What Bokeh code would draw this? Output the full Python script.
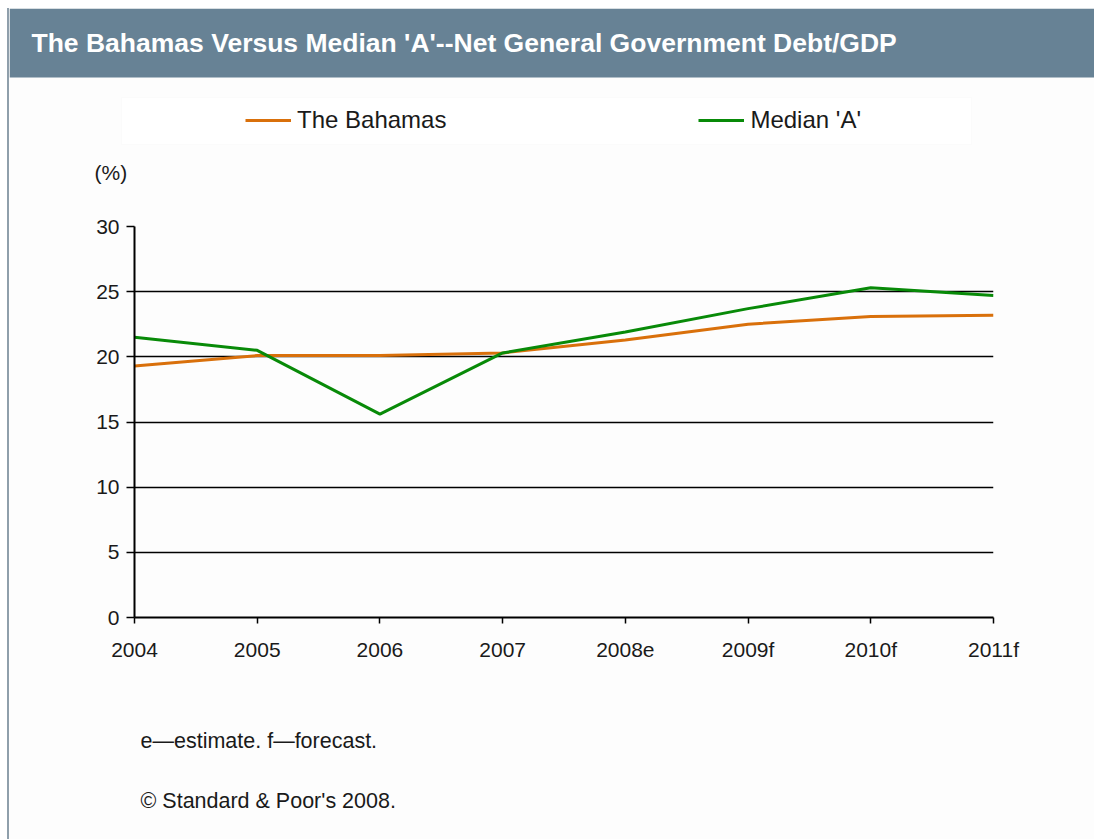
from bokeh.plotting import figure
from bokeh.layouts import column
from bokeh.models import (Label, BoxAnnotation, Legend, LegendItem, FixedTicker,
                          Range1d)
from bokeh.embed import file_html
from bokeh.resources import INLINE

title = "The Bahamas Versus Median 'A'--Net General Government Debt/GDP"
years = ["2004", "2005", "2006", "2007", "2008e", "2009f", "2010f", "2011f"]
bahamas = [19.3, 20.1, 20.1, 20.3, 21.3, 22.5, 23.1, 23.2]
median_a = [21.5, 20.5, 15.6, 20.3, 21.9, 23.7, 25.3, 24.7]
y_ticks = [0, 5, 10, 15, 20, 25, 30]
footnote1 = "e\u2014estimate. f\u2014forecast."
footnote2 = "\u00a9 Standard & Poor's 2008."

FONT = "Liberation Sans"
TXT = "#1a1a1a"
BG = "#fdfdfd"
ORANGE = "#d9700b"
GREEN = "#088a08"
W = 1085
x = list(range(len(years)))
NAN = float("nan")


def blank(h):
    f = figure(width=W, height=h, output_backend="svg", toolbar_location=None,
               x_range=Range1d(0, W), y_range=Range1d(h, 0),
               x_axis_type=None, y_axis_type=None, min_border=0,
               frame_align=False)
    f.grid.visible = False
    f.outline_line_color = None
    f.background_fill_color = BG
    f.border_fill_color = BG
    return f


# ---- top part: header, legend, unit label
top = blank(192)
top.add_layout(BoxAnnotation(left=0, right=W, top=0, bottom=69,
                             fill_color="#678295", fill_alpha=1, line_color=None))
top.add_layout(Label(x=22, y=34, text=title, text_font=FONT,
                     text_font_style="bold", text_font_size="26.5px",
                     text_color="white", text_baseline="middle"))
top.add_layout(BoxAnnotation(left=112, right=962, top=89, bottom=136,
                             fill_color="white", fill_alpha=1,
                             line_color="#f4f4f4", line_width=1))
l1 = top.line(x=[NAN], y=[NAN], line_color=ORANGE, line_width=3)
l2 = top.line(x=[NAN], y=[NAN], line_color=GREEN, line_width=3)
legend = Legend(items=[LegendItem(label="The Bahamas", renderers=[l1]),
                       LegendItem(label="Median 'A'", renderers=[l2])],
                orientation="horizontal", location=(236, 66), margin=0,
                padding=0, spacing=252, glyph_width=46, glyph_height=20,
                label_standoff=6, border_line_color=None,
                background_fill_alpha=0, label_text_font=FONT,
                label_text_font_size="24px", label_text_color=TXT,
                label_height=24)
top.add_layout(legend)
top.add_layout(Label(x=85, y=164, text="(%)", text_font=FONT,
                     text_font_size="21px", text_color=TXT,
                     text_baseline="middle"))

# ---- main chart
p = figure(width=W, height=490, output_backend="svg", toolbar_location=None,
           x_range=Range1d(0, len(years) - 1), y_range=Range1d(0, 30),
           min_border_left=125, min_border_right=101, min_border_top=26,
           min_border_bottom=73, frame_align=False)
p.background_fill_color = BG
p.border_fill_color = BG
p.outline_line_color = None
p.yaxis.ticker = FixedTicker(ticks=y_ticks)
p.xaxis.ticker = FixedTicker(ticks=x)
p.xaxis.major_label_overrides = {i: y for i, y in enumerate(years)}
for ax in (p.xaxis[0], p.yaxis[0]):
    ax.axis_line_color = "black"
    ax.axis_line_width = 2
    ax.major_tick_line_color = "black"
    ax.major_tick_line_width = 1.5
    ax.major_tick_in = 0
    ax.major_tick_out = 8
    ax.minor_tick_line_color = None
    ax.major_label_text_font = FONT
    ax.major_label_text_font_size = "21px"
    ax.major_label_text_color = TXT
p.xaxis.major_tick_out = 6
p.yaxis.major_label_standoff = 7
p.xaxis.major_label_standoff = 14
p.xgrid.grid_line_color = None
p.ygrid.grid_line_color = "black"
p.ygrid.grid_line_width = 1.5
p.ygrid.ticker = FixedTicker(ticks=y_ticks)

p.line(x, bahamas, line_color=ORANGE, line_width=3)
p.line(x, median_a, line_color=GREEN, line_width=3)

# ---- footer
foot = blank(149)
foot.add_layout(Label(x=131, y=50, text=footnote1, text_font=FONT,
                      text_font_size="21.5px", text_color=TXT,
                      text_baseline="middle"))
foot.add_layout(Label(x=131, y=110, text=footnote2, text_font=FONT,
                      text_font_size="21.5px", text_color=TXT,
                      text_baseline="middle"))

layout = column(top, p, foot, spacing=0, margin=(8, 0, 0, 7),
                styles={"border-left": "2px solid #8f9fab",
                        "background-color": BG})
open("out.html", "w").write(file_html(layout, INLINE))
